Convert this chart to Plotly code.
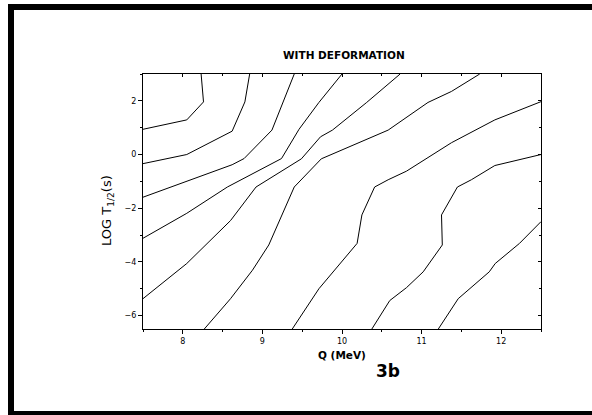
import plotly.graph_objects as go

# Contour lines (Q in MeV, LOG T1/2 in s)
line_a_q = [7.5, 8.05, 8.26, 8.23]
line_a_t = [0.94, 1.29, 1.96, 3.0]
line_b_q = [7.5, 8.05, 8.62, 8.78, 8.84]
line_b_t = [-0.34, 0.0, 0.87, 1.96, 3.0]
line_c_q = [7.5, 8.05, 8.62, 8.77, 9.12, 9.4]
line_c_t = [-1.59, -1.0, -0.38, -0.15, 0.91, 3.0]
line_d_q = [7.5, 8.05, 8.56, 9.24, 9.46, 9.71, 10.0]
line_d_t = [-3.12, -2.19, -1.21, -0.15, 0.94, 1.94, 3.0]
line_e_q = [7.5, 8.05, 8.6, 8.92, 9.49, 9.73, 9.88, 10.31, 10.73]
line_e_t = [-5.37, -4.06, -2.46, -1.21, -0.16, 0.66, 0.91, 1.94, 3.0]
line_f_q = [8.27, 8.6, 8.875, 9.08, 9.4, 9.74, 10.58, 11.08, 11.375, 11.73]
line_f_t = [-6.5, -5.37, -4.31, -3.37, -1.21, -0.16, 0.91, 1.94, 2.35, 3.0]
line_g_q = [9.375, 9.71, 10.19, 10.25, 10.41, 10.58, 10.81, 11.375, 11.92, 12.5]
line_g_t = [-6.5, -5.0, -3.31, -2.25, -1.21, -0.94, -0.62, 0.44, 1.29, 1.97]
line_h_q = [10.375, 10.6, 10.81, 11.02, 11.26, 11.25, 11.45, 11.625, 11.92, 12.5]
line_h_t = [-6.5, -5.44, -4.96, -4.37, -3.37, -2.25, -1.21, -0.94, -0.41, 0.0]
line_i_q = [11.21, 11.4, 11.46, 11.85, 11.925, 12.23, 12.5]
line_i_t = [-6.5, -5.62, -5.37, -4.37, -4.06, -3.31, -2.5]

lines = [(line_a_q, line_a_t), (line_b_q, line_b_t), (line_c_q, line_c_t),
         (line_d_q, line_d_t), (line_e_q, line_e_t), (line_f_q, line_f_t),
         (line_g_q, line_g_t), (line_h_q, line_h_t), (line_i_q, line_i_t)]

x_ticks = [8, 9, 10, 11, 12]
y_ticks = [-6, -4, -2, 0, 2]
x_range = [7.5, 12.5]
y_range = [-6.5, 3]

FONT = "DejaVu Sans, Liberation Sans, Arial, sans-serif"

fig = go.Figure()
for q, t in lines:
    fig.add_trace(go.Scatter(x=q, y=t, mode="lines",
                             line=dict(color="black", width=1),
                             showlegend=False, hoverinfo="skip"))
# dummy trace for mirrored (inward) ticks on top/right
fig.add_trace(go.Scatter(x=[None], y=[None], xaxis="x2", yaxis="y2",
                         showlegend=False, hoverinfo="skip"))

L, R, T, B = 143, 51, 74, 86
W, H = 592, 415
pw, ph = W - L - R, H - T - B

def px(x):
    return (x - L) / pw

def py(y):
    return (H - B - y) / ph

axis_common = dict(showgrid=False, zeroline=False, linecolor="black", linewidth=1)

def ann(text, x, y, size, angle=0):
    return dict(text=text, xref="paper", yref="paper", x=px(x), y=py(y),
                xanchor="center", yanchor="middle", showarrow=False,
                textangle=angle, font=dict(size=size))

fig.update_layout(
    width=W, height=H,
    margin=dict(l=L, r=R, t=T, b=B),
    paper_bgcolor="white", plot_bgcolor="white",
    font=dict(family=FONT, color="black", size=9),
    xaxis=dict(range=x_range, tickvals=x_ticks, ticks="outside", ticklen=4,
               tickwidth=1, tickcolor="black", showline=True,
               tickfont=dict(size=8), anchor="y",
               minor=dict(dtick=0.5, tick0=7.5, ticks="outside", ticklen=2,
                          tickcolor="black"),
               **axis_common),
    yaxis=dict(range=y_range, tickvals=y_ticks, ticks="outside", ticklen=4,
               tickwidth=1, tickcolor="black", showline=True,
               tickfont=dict(size=8), anchor="x",
               minor=dict(dtick=1, tick0=-7, ticks="outside", ticklen=2,
                          tickcolor="black"),
               **axis_common),
    xaxis2=dict(range=x_range, overlaying="x", side="top", anchor="y2",
                tickvals=x_ticks, ticks="inside", ticklen=3, tickcolor="black",
                showticklabels=False, showline=True,
                minor=dict(dtick=0.5, tick0=7.5, ticks="inside", ticklen=2,
                           tickcolor="black"),
                **axis_common),
    yaxis2=dict(range=y_range, overlaying="y", side="right", anchor="x2",
                tickvals=y_ticks, ticks="inside", ticklen=3, tickcolor="black",
                showticklabels=False, showline=True,
                minor=dict(dtick=1, tick0=-7, ticks="inside", ticklen=2,
                           tickcolor="black"),
                **axis_common),
    shapes=[
        dict(type="rect", xref="paper", yref="paper",
             x0=px(11), x1=px(620), y0=py(414), y1=py(7),
             line=dict(color="black", width=6), fillcolor="rgba(0,0,0,0)"),
    ],
    annotations=[
        ann("<b>WITH DEFORMATION</b>", 344, 55, 10.5),
        ann("<b>Q (MeV)</b>", 342, 355, 10.5),
        ann("<b>3b</b>", 388, 371, 17),
        ann("LOG T<sub>1/2</sub>(s)", 107, 211, 13, -90),
    ],
)

fig.write_html("out.html",
               config={"displayModeBar": False, "staticPlot": True},
               post_script="document.body.style.margin='0';"
                           "document.body.style.overflow='hidden';")
